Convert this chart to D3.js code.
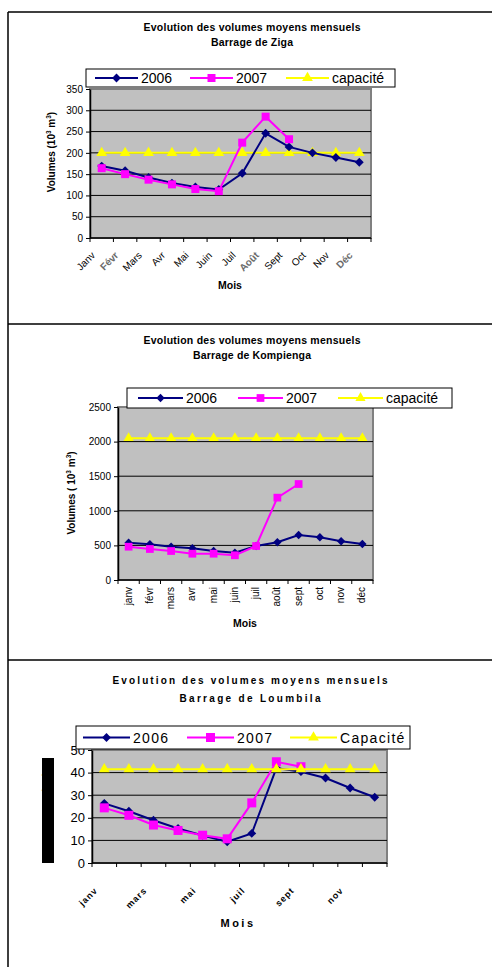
<!DOCTYPE html>
<html><head><meta charset="utf-8">
<script src="https://cdn.jsdelivr.net/npm/d3@7"></script>
<style>body{margin:0;background:#fff}svg{display:block;font-family:"Liberation Sans",Arial,sans-serif}</style>
</head><body>
<svg id="c" width="492" height="967"></svg>
<script>
// ---------- DATA ----------
const monthsZiga = ["Janv","Févr","Mars","Avr","Mai","Juin","Juil","Août","Sept","Oct","Nov","Déc"];
const ziga2006 = [169,158,142,129,120,114,152,246,214,200,189,178];
const ziga2007 = [164,150,137,126,115,110,224,285,232,null,null,null];
const zigaCap  = [200,200,200,200,200,200,200,200,200,200,200,200];
const zigaTicks = [0,50,100,150,200,250,300,350];

const monthsKomp = ["janv","févr","mars","avr","mai","juin","juil","août","sept","oct","nov","déc"];
const komp2006 = [539,516,481,458,419,395,491,545,650,617,559,520];
const komp2007 = [481,448,419,380,380,357,491,1190,1387,null,null,null];
const kompCap  = [2050,2050,2050,2050,2050,2050,2050,2050,2050,2050,2050,2050];
const kompTicks = [0,500,1000,1500,2000,2500];

const monthsLoum = ["janv","févr","mars","avr","mai","juin","juil","août","sept","oct","nov","déc"];
const loumShown = ["janv","mars","mai","juil","sept","nov"];
const loum2006 = [26.4,22.9,18.9,15.3,12.2,9.4,13.1,42,40.4,37.6,33.2,29.1];
const loum2007 = [24.4,21.1,16.8,14.4,12.3,10.7,26.6,44.8,42.6,null,null,null];
const loumCap  = [41.5,41.5,41.5,41.5,41.5,41.5,41.5,41.5,41.5,41.5,41.5,41.5];
const loumTicks = [0,10,20,30,40,50];

const seriesNames = ["2006","2007"];
// ---------- DRAW ----------
const svg = d3.select("#c");
const C06 = "#000080", C07 = "#ff00ff", CCAP = "#ffff00";
const diamondType = d3.symbolDiamond2 || d3.symbolDiamond;

// panel frames
svg.append("path").attr("d","M8,12 H500 M8,12 V975 M8,324 H500 M8,660 H500")
  .attr("stroke","#000").attr("stroke-width",1.5).attr("fill","none");

function marker(g, type, size, color, x, y){
  g.append("path").attr("d", d3.symbol().type(type).size(size)())
   .attr("transform",`translate(${x},${y})`).attr("fill",color);
}

function panel(o){
  const g = svg.append("g");
  // titles
  o.titles.forEach((t,i)=>{
    g.append("text").attr("x",o.titleX).attr("y",o.titleY[i]).attr("text-anchor","middle")
     .attr("font-weight","bold").attr("font-size",o.titleFs)
     .attr("textLength",o.titleW[i]).attr("lengthAdjust","spacing").text(t);
  });
  const x = d3.scaleBand().domain(o.cats).range([o.x0,o.x1]).padding(0);
  const y = d3.scaleLinear().domain([0,o.ticks[o.ticks.length-1]]).range([o.y1,o.y0]);
  const bw = x.bandwidth();
  // plot area
  g.append("rect").attr("x",o.x0).attr("y",o.y0).attr("width",o.x1-o.x0).attr("height",o.y1-o.y0)
   .attr("fill","#c0c0c0").attr("stroke","#808080").attr("stroke-width",2);
  // grid
  g.selectAll(".grid").data(o.ticks.slice(1,-1)).enter().append("line")
   .attr("x1",o.x0).attr("x2",o.x1).attr("y1",d=>y(d)).attr("y2",d=>y(d))
   .attr("stroke","#000").attr("stroke-width",1);
  // y axis
  const ya = g.append("g").attr("transform",`translate(${o.x0},0)`)
    .call(d3.axisLeft(y).tickValues(o.ticks).tickFormat(d3.format("d")).tickSize(4).tickPadding(3).tickSizeOuter(0));
  ya.select(".domain").attr("stroke","#000").attr("stroke-width",1.5);
  ya.selectAll("text").attr("font-size",o.yFs).attr("fill","#000").attr("font-family","Liberation Sans, Arial")
    .attr("letter-spacing",o.yLs||0);
  // x axis line & ticks at boundaries
  g.append("line").attr("x1",o.x0).attr("x2",o.x1).attr("y1",o.y1).attr("y2",o.y1).attr("stroke","#000").attr("stroke-width",1.5);
  const bounds = o.cats.map(c=>x(c)).concat([o.x1]);
  g.selectAll(".xt").data(bounds).enter().append("line")
   .attr("x1",d=>d).attr("x2",d=>d).attr("y1",o.y1).attr("y2",o.y1+4).attr("stroke","#000");
  // x labels
  o.cats.forEach((c,i)=>{
    if(o.showCat && !o.showCat.includes(c) ) return;
    const cx = x(c)+bw/2 + o.lblDx, cy = o.y1 + o.lblDy;
    const t = g.append("text").attr("transform",`translate(${cx},${cy}) rotate(${o.lblRot})`)
     .attr("text-anchor","end").attr("font-size",o.lblFs).text(c);
    if(o.lblBold) t.attr("font-weight","bold").attr("letter-spacing",o.lblLs||0);
    if(o.greyCats && o.greyCats.includes(c)) t.attr("fill","#6a6a6a").attr("font-weight","bold");
  });
  // axis titles
  g.append("text").attr("x",o.xtX).attr("y",o.xtY).attr("text-anchor","middle").attr("font-weight","bold")
   .attr("font-size",o.xtFs).attr("letter-spacing",o.xtLs||0).text("Mois");
  if(o.yBlock){
    g.append("rect").attr("x",o.yBlock[0]).attr("y",o.yBlock[1]).attr("width",o.yBlock[2]).attr("height",o.yBlock[3]).attr("fill","#000");
  }
  const yl = g.append("text").attr("transform",`translate(${o.ytX},${o.ytY}) rotate(-90)`)
   .attr("text-anchor","middle").attr("font-weight","bold").attr("font-size",o.ytFs).attr("fill","#000");
  yl.append("tspan").text(o.ytPre);
  yl.append("tspan").attr("dy",-4).attr("font-size",o.ytFs*0.65).text("3");
  yl.append("tspan").attr("dy",4).text(" m");
  yl.append("tspan").attr("dy",-4).attr("font-size",o.ytFs*0.65).text("3");
  yl.append("tspan").attr("dy",4).text(")");
  // series
  const line = d3.line().defined(d=>d.v!=null).x(d=>x(d.c)+bw/2).y(d=>y(d.v));
  const ser = [
    {vals:o.cap, color:CCAP, type:d3.symbolTriangle, size:o.triS},
    {vals:o.s06, color:C06, type:diamondType, size:o.diaS},
    {vals:o.s07, color:C07, type:d3.symbolSquare, size:o.sqS}
  ];
  const order = o.order || [0,1,2];
  order.forEach(k=>{
    const s = ser[k];
    const pts = o.cats.map((c,i)=>({c, v:s.vals[i]}));
    g.append("path").attr("d",line(pts)).attr("fill","none").attr("stroke",s.color).attr("stroke-width",2);
    pts.filter(p=>p.v!=null).forEach(p=>marker(g,s.type,s.size,s.color,x(p.c)+bw/2,y(p.v)));
  });
  // legend
  const L = o.leg;
  g.append("rect").attr("x",L.x0).attr("y",L.y0).attr("width",L.x1-L.x0).attr("height",L.y1-L.y0)
   .attr("fill","#fff").attr("stroke","#000").attr("stroke-width",1);
  const ly = (L.y0+L.y1)/2;
  const items = [{n:seriesNames[0],s:ser[1]},{n:seriesNames[1],s:ser[2]},{n:o.capName,s:ser[0]}];
  items.forEach((it,i)=>{
    const lx = L.xs[i];
    g.append("line").attr("x1",lx).attr("x2",lx+L.len).attr("y1",ly).attr("y2",ly).attr("stroke",it.s.color).attr("stroke-width",2);
    marker(g,it.s.type,it.s.size,it.s.color,lx+L.len/2,ly);
    g.append("text").attr("x",lx+L.len+3).attr("y",ly+L.fs*0.36).attr("font-size",L.fs)
     .attr("letter-spacing",L.ls||0).text(it.n);
  });
}

panel({
  titles:["Evolution des volumes moyens mensuels","Barrage de Ziga"], titleX:252, titleY:[31,46], titleW:[217,82], titleFs:10.5,
  cats:monthsZiga, s06:ziga2006, s07:ziga2007, cap:zigaCap, ticks:zigaTicks, capName:"capacité",
  x0:90, x1:371, y0:89, y1:238, yFs:10,
  lblDx:-6, lblDy:18, lblRot:-45, lblFs:10, greyCats:["Févr","Août","Déc"],
  xtX:230, xtY:289, xtFs:10.5, ytX:55, ytY:152, ytFs:10, ytPre:"Volumes (10",
  diaS:50, sqS:64, triS:50,
  leg:{x0:86,x1:395,y0:69,y1:87,xs:[95,190,286],len:43,fs:14}
});
panel({
  titles:["Evolution des volumes moyens mensuels","Barrage de Kompienga"], titleX:252, titleY:[344,359], titleW:[217,118], titleFs:10.5,
  cats:monthsKomp, s06:komp2006, s07:komp2007, cap:kompCap, ticks:kompTicks, capName:"capacité",
  x0:118, x1:373, y0:407, y1:580, yFs:10,
  lblDx:3, lblDy:7, lblRot:-90, lblFs:10,
  xtX:245, xtY:627, xtFs:10.5, ytX:75, ytY:493, ytFs:10, ytPre:"Volumes ( 10",
  diaS:45, sqS:60, triS:45,
  leg:{x0:127,x1:452,y0:388,y1:408,xs:[138,238,338],len:45,fs:14}
});
panel({
  titles:["Evolution des volumes moyens mensuels","Barrage de Loumbila"], titleX:250, titleY:[684,702], titleW:[275,141], titleFs:10,
  cats:monthsLoum, s06:loum2006, s07:loum2007, cap:loumCap, ticks:loumTicks, capName:"Capacité",
  showCat:loumShown,
  x0:92, x1:387, y0:750, y1:863, yFs:13,
  lblDx:-6, lblDy:28, lblRot:-45, lblFs:9, lblBold:true, lblLs:1,
  xtX:238, xtY:927, xtFs:11, xtLs:2.5, ytX:51, ytY:810, ytFs:10, ytPre:"Volumes (10",
  yBlock:[42,758,12,105],
  diaS:50, sqS:81, triS:50, order:[1,2,0],
  leg:{x0:76,x1:410,y0:726,y1:749,xs:[83,187,290],len:47,fs:14,ls:1.3}
});
</script>
</body></html>
